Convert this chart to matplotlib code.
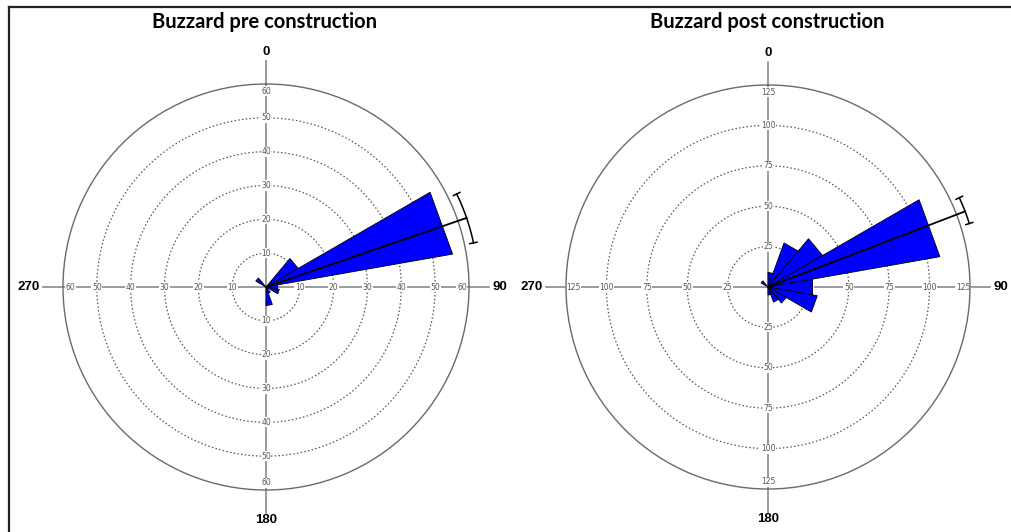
import numpy as np
import matplotlib
matplotlib.use("Agg")
import matplotlib.pyplot as plt
from matplotlib.lines import Line2D

# ---- data ----
bin_starts = [0, 20, 40, 60, 80, 100, 120, 140, 160, 180, 200, 220, 240, 260, 280, 300, 320, 340]
bin_width = 20
pre_counts = [0, 0, 11, 56, 3.5, 4, 0, 2, 5.5, 0, 0, 0, 0, 0, 0, 3.5, 0, 0]
post_counts = [9, 29, 39, 108, 28, 31, 13, 10, 5, 0, 0, 0, 0, 0, 0, 5, 0, 0]
pre_rings = [10, 20, 30, 40, 50, 60]
post_rings = [25, 50, 75, 100, 125]
pre_mean = 71
pre_ci = [64, 78]
post_mean = 69
post_ci = [65, 72.5]
titles = ["Buzzard pre construction", "Buzzard post construction"]
cardinal_angles = [0, 90, 180, 270]
cardinal_labels = ["0", "90", "180", "270"]

W, H = 1011, 532
fig = plt.figure(figsize=(W / 100, H / 100), dpi=100)


def rose(rect, counts, rings, mean, ci, title, title_x):
    ax = fig.add_axes(rect, projection="polar")
    ax.set_theta_zero_location("N")
    ax.set_theta_direction(-1)
    rmax = rings[-1]
    ax.set_ylim(0, rmax)
    ax.grid(False)
    ax.set_xticks([])
    ax.set_yticks([])
    ax.spines["polar"].set_color("#6a6a6a")
    ax.spines["polar"].set_linewidth(1.0)

    th = np.linspace(0, 2 * np.pi, 721)
    for r in rings[:-1]:
        ax.plot(th, np.full_like(th, r), ls=(0, (1.2, 1.8)), color="#555555",
                lw=0.9, zorder=1)

    # axis cross lines
    Lh = 1.097 * rmax
    Lv = 1.112 * rmax
    ax.plot([0, 0, np.pi], [Lv, 0, Lv], color="#8a8a8a", lw=1.2, zorder=1.5,
            clip_on=False)
    ax.plot([np.pi / 2, np.pi / 2, 3 * np.pi / 2], [Lh, 0, Lh], color="#8a8a8a",
            lw=1.2, zorder=1.5, clip_on=False)

    # ring labels
    for r in rings:
        rr = r - 0.035 * rmax if r == rmax else r
        for a in cardinal_angles:
            ax.text(np.radians(a), rr, str(r), ha="center", va="center",
                    fontsize=5.5, color="#555555", zorder=2,
                    bbox=dict(fc="white", ec="none", pad=0.4))

    # petals
    for s, c in zip(bin_starts, counts):
        if c > 0:
            ax.fill(np.radians([s, s, s + bin_width]), [0, c, c],
                    facecolor="#0000ff", edgecolor="black", lw=0.6, zorder=3)

    # mean vector and CI
    rc = 1.045 * rmax
    ax.plot([np.radians(mean)] * 2, [0, rc], color="black", lw=1.3, zorder=5,
            clip_on=False)
    t = np.radians(np.linspace(ci[0], ci[1], 40))
    ax.plot(t, np.full_like(t, rc), color="black", lw=1.1, zorder=5, clip_on=False)
    for a in ci:
        ax.plot([np.radians(a)] * 2, [rc - 0.018 * rmax, rc + 0.018 * rmax],
                color="black", lw=1.1, zorder=5, clip_on=False)

    # cardinal labels
    fk = dict(fontsize=9.5, fontweight="bold", family="Liberation Sans", color="black")
    ax.text(0, 1.128 * rmax, cardinal_labels[0], ha="center", va="bottom", **fk)
    ax.text(np.pi / 2, 1.115 * rmax, cardinal_labels[1], ha="left", va="center", **fk)
    ax.text(np.pi, 1.12 * rmax, cardinal_labels[2], ha="center", va="top", **fk)
    ax.text(3 * np.pi / 2, 1.115 * rmax, cardinal_labels[3], ha="right", va="center", **fk)

    fig.text(title_x, 1 - 22 / H, title, ha="center", va="center", fontsize=14.5,
             fontweight="bold", family="Lato")
    return ax


# left: centre (266, 287), radius 203 px
r1 = 203
rose([(266 - r1) / W, (H - 287 - r1) / H, 2 * r1 / W, 2 * r1 / H],
     pre_counts, pre_rings, pre_mean, pre_ci, titles[0], 265 / W)
# right: centre (768, 287), radius 202 px
r2 = 202
rose([(768 - r2) / W, (H - 287 - r2) / H, 2 * r2 / W, 2 * r2 / H],
     post_counts, post_rings, post_mean, post_ci, titles[1], 767 / W)

# border (top & left)
fig.add_artist(Line2D([9 / W, 1], [1 - 7 / H, 1 - 7 / H], transform=fig.transFigure,
                      color="#222222", lw=1.6))
fig.add_artist(Line2D([9 / W, 9 / W], [0, 1 - 7 / H], transform=fig.transFigure,
                      color="#222222", lw=1.6))

fig.savefig("out.png", dpi=100, facecolor="white")
